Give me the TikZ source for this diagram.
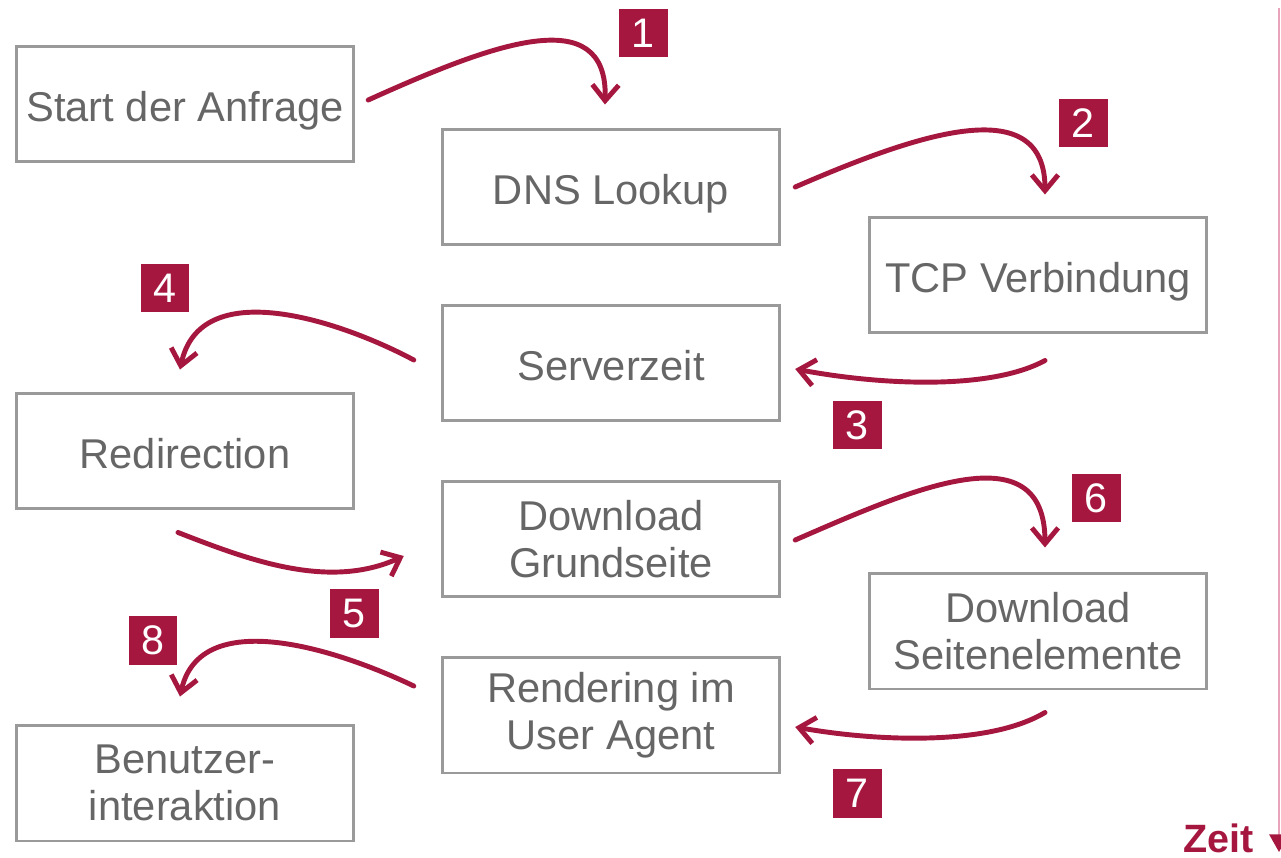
\documentclass[tikz,border=0pt]{standalone}
\usepackage{fontspec}
\setmainfont{Liberation Sans}
\usetikzlibrary{arrows.meta,calc}
\definecolor{crimson}{HTML}{A6173F}
\definecolor{boxgray}{HTML}{9A9A9A}
\definecolor{txtgray}{HTML}{666666}
\definecolor{timepink}{HTML}{E9A3BA}
\tikzset{
  phase/.style={draw=boxgray,line width=1.7pt,minimum width=6.75cm,minimum height=2.32cm,
    text=txtgray,font=\fontsize{23.7}{26.7}\selectfont,align=center,inner sep=0pt},
  oneline/.style={text height=20pt,text depth=0pt},
  stepno/.style={fill=crimson,text=white,minimum size=0.98cm,inner sep=0pt,font=\fontsize{23.5}{23.5}\selectfont},
  flow/.style={draw=crimson,line width=2.8pt,line cap=round,-{Straight Barb[length=9pt,width=15pt]}}
}
\begin{document}
\begin{tikzpicture}[x=0.02cm,y=-0.02cm]
\useasboundingbox (0,0) rectangle (1281,858);
\node[phase,oneline] (start) at (185,104) {Start der Anfrage};
\node[phase,oneline] (dns) at (611,187) {DNS Lookup};
\node[phase,oneline] (tcp) at (1038,275) {TCP Verbindung};
\node[phase,oneline] (server) at (611,363) {Serverzeit};
\node[phase,oneline] (redirect) at (185,451) {Redirection};
\node[phase] (base) at (611,539) {Download\\Grundseite};
\node[phase] (elements) at (1038,631) {Download\\Seitenelemente};
\node[phase] (render) at (611,715) {Rendering im\\User Agent};
\node[phase] (user) at (185,783) {Benutzer-\\interaktion};
\node[stepno] (n1) at (643,33) {1};
\node[stepno] (n2) at (1083,123) {2};
\node[stepno] (n3) at (857,425) {3};
\node[stepno] (n4) at (165,288) {4};
\node[stepno] (n5) at (354,613) {5};
\node[stepno] (n6) at (1096,498) {6};
\node[stepno] (n7) at (857,793) {7};
\node[stepno] (n8) at (153,640) {8};
\draw[flow] ($(start.east)+(13,-4)$) .. controls +(122,-55) and +(3,-105) .. ($(dns.north)+(-6,-23)$);
\draw[flow] ($(dns.east)+(14,0)$) .. controls +(120,-52) and +(0,-105) .. ($(tcp.north)+(7,-21)$);
\draw[flow] ($(tcp.south)+(7,26)$) .. controls +(-55,30) and +(85,16) .. ($(server.east)+(14,6)$);
\draw[flow] ($(server.west)+(-27,-3)$) .. controls +(-75,-40) and +(20,-95) .. ($(redirect.north)+(-5,-22)$);
\draw[flow] ($(redirect.south)+(-7,22)$) .. controls +(72,28) and +(-75,34) .. ($(base.west)+(-37,17)$);
\draw[flow] ($(base.east)+(14,1)$) .. controls +(115,-50) and +(0,-118) .. ($(elements.north)+(7,-24)$);
\draw[flow] ($(elements.south)+(7,22)$) .. controls +(-55,33) and +(85,15) .. ($(render.east)+(14,12)$);
\draw[flow] ($(render.west)+(-27,-29)$) .. controls +(-75,-36) and +(20,-92) .. ($(user.north)+(-5,-27)$);
\node[anchor=base west,text=crimson,font=\bfseries\fontsize{22.5}{23}\selectfont,inner sep=0pt] (zeit) at (1183,852) {Zeit};
\coordinate (ttop) at (1279,8);
\coordinate (tend) at (1279,852);
\draw[timepink,line width=1.1pt,-{Triangle[length=10pt,width=11pt,color=crimson]}] (ttop) -- (tend);
\end{tikzpicture}
\end{document}
